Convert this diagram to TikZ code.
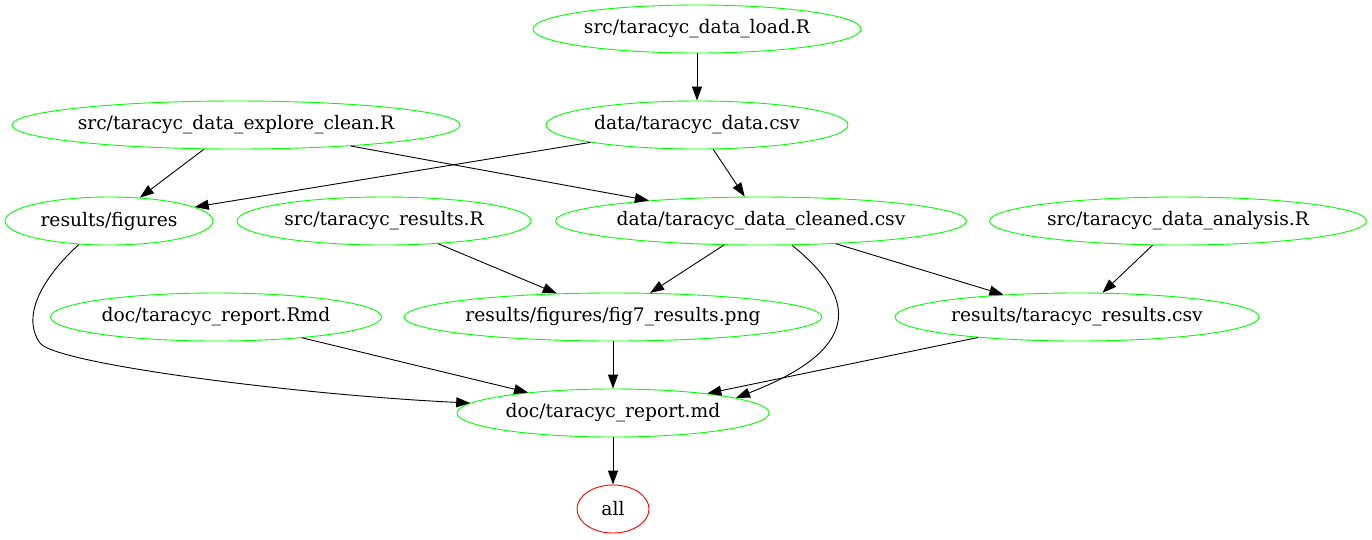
\documentclass[tikz,border=0pt]{standalone}
\usepackage{fontspec}
\setmainfont{DejaVu Serif}
\usetikzlibrary{shapes.geometric, arrows.meta}

\begin{document}
\begin{tikzpicture}[x=1pt, y=-1pt,
  main/.style = {draw=green, ellipse, line width=0.9pt, inner sep=0pt, minimum height=48pt, font=\fontsize{18.67}{22}\selectfont},
  goal/.style = {main, draw=red},
  edge/.style = {-{Triangle[length=14pt, width=10pt]}, line width=0.9pt}]
  \useasboundingbox (0,0) rectangle (1372,539);
  \node[main, minimum width=328pt] (1) at (697,29) {src/taracyc\_data\_load.R};
  \node[main, minimum width=302pt] (2) at (697,125) {data/taracyc\_data.csv};
  \node[main, minimum width=448pt] (3) at (236,125) {src/taracyc\_data\_explore\_clean.R};
  \node[main, minimum width=208pt] (4) at (109,221) {results/figures};
  \node[main, minimum width=294pt] (5) at (384,221) {src/taracyc\_results.R};
  \node[main, minimum width=411pt] (6) at (761,221) {data/taracyc\_data\_cleaned.csv};
  \node[main, minimum width=377pt] (7) at (1178,221) {src/taracyc\_data\_analysis.R};
  \node[main, minimum width=331pt] (8) at (216,317) {doc/taracyc\_report.Rmd};
  \node[main, minimum width=416pt] (9) at (613,317) {results/figures/fig7\_results.png};
  \node[main, minimum width=364pt] (10) at (1077,317) {results/taracyc\_results.csv};
  \node[main, minimum width=312pt] (11) at (613,413) {doc/taracyc\_report.md};
  \node[goal, minimum width=72pt] (12) at (613,509) {all};

  \draw[edge] (1) -- (2);
  \draw[edge] (3) -- (4);
  \draw[edge] (2) -- (4);
  \draw[edge] (3) -- (6);
  \draw[edge] (2) -- (6);
  \draw[edge] (4.-142) .. controls (45,275) and (20,315) .. (40,343) .. controls (55,364) and (300,395) .. (11.176);
  \draw[edge] (5) -- (9);
  \draw[edge] (6) -- (9);
  \draw[edge] (6.-38) .. controls (860,300) and (860,350) .. (11.7);
  \draw[edge] (6) -- (10);
  \draw[edge] (7) -- (10);
  \draw[edge] (8) -- (11);
  \draw[edge] (9) -- (11);
  \draw[edge] (10) -- (11);
  \draw[edge] (11) -- (12);
\end{tikzpicture}
\end{document}
